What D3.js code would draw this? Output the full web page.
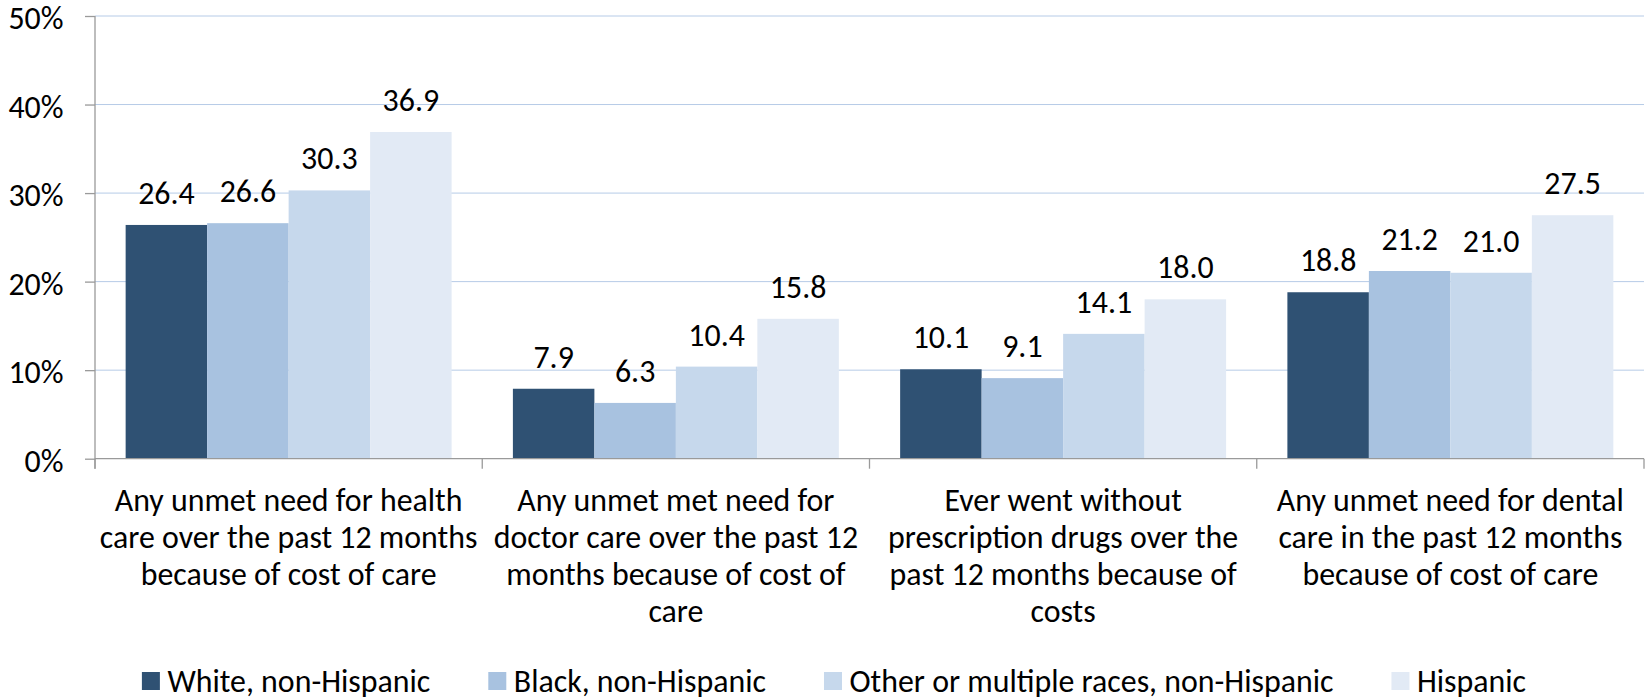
<!DOCTYPE html>
<html>
<head>
<meta charset="utf-8">
<script src="https://cdn.jsdelivr.net/npm/d3@7"></script>
<style>
  html, body { margin: 0; padding: 0; background: #fff; }
  svg { display: block; }
  text { font-family: Carlito, Lato, "Open Sans", sans-serif; fill: #000; }
</style>
</head>
<body>
<svg id="chart" width="1645" height="700"></svg>
<script>
// ---- data ----
const categories = ["health", "doctor", "drugs", "dental"];
const categoryLabels = [
  ["Any unmet need for health", "care over the past 12 months", "because of cost of care"],
  ["Any unmet met need for", "doctor care over the past 12", "months because of cost of", "care"],
  ["Ever went without", "prescription drugs over the", "past 12 months because of", "costs"],
  ["Any unmet need for dental", "care in the past 12 months", "because of cost of care"]
];
const seriesNames = ["White, non-Hispanic", "Black, non-Hispanic", "Other or multiple races, non-Hispanic", "Hispanic"];
const whiteValues    = [26.4, 7.9, 10.1, 18.8];
const blackValues    = [26.6, 6.3, 9.1, 21.2];
const otherValues    = [30.3, 10.4, 14.1, 21.0];
const hispanicValues = [36.9, 15.8, 18.0, 27.5];
const seriesColors = ["#2f5173", "#a8c2e0", "#c6d8ec", "#e2eaf5"];
const yTickValues = [0, 10, 20, 30, 40, 50];

const seriesValues = [whiteValues, blackValues, otherValues, hispanicValues];

// ---- layout ----
const svg = d3.select("#chart");
const plotLeft = 95, plotRight = 1644, plotTop = 16, plotBottom = 458.7;

// font size matched to reference text width
const probe = svg.append("text").attr("font-size", 30).text("Any unmet need for health");
const measured = probe.node().getComputedTextLength();
probe.remove();
const fs = 30 * 348 / measured;

const x = d3.scaleBand().domain(categories).range([plotLeft, plotRight]).paddingInner(0).paddingOuter(0);
const xInner = d3.scaleBand().domain(d3.range(seriesNames.length)).range([0, x.bandwidth()]).paddingInner(0).paddingOuter(0.376);
const y = d3.scaleLinear().domain([0, 50]).range([plotBottom, plotTop]);

// gridlines
svg.append("g").selectAll("line").data(yTickValues.filter(d => d > 0)).join("line")
  .attr("x1", plotLeft).attr("x2", plotRight)
  .attr("y1", d => y(d)).attr("y2", d => y(d))
  .attr("stroke", "#b6cbe7").attr("stroke-width", 1);

// bars
const groups = svg.append("g").selectAll("g").data(categories).join("g")
  .attr("transform", d => `translate(${x(d)},0)`);
groups.each(function(cat, ci) {
  const g = d3.select(this);
  const rows = seriesValues.map((vals, si) => ({ si, v: vals[ci] }));
  g.selectAll("rect").data(rows).join("rect")
    .attr("x", d => xInner(d.si))
    .attr("width", xInner.bandwidth())
    .attr("y", d => y(d.v))
    .attr("height", d => y(0) - y(d.v))
    .attr("fill", d => seriesColors[d.si]);
  g.selectAll("text.val").data(rows).join("text")
    .attr("class", "val")
    .attr("x", d => xInner(d.si) + xInner.bandwidth() / 2)
    .attr("y", d => y(d.v) - 21)
    .attr("text-anchor", "middle")
    .attr("font-size", fs)
    .text(d => d.v.toFixed(1));
});

// y axis
const yAxis = svg.append("g").attr("transform", `translate(${plotLeft},0)`)
  .call(d3.axisLeft(y).tickValues(yTickValues).tickFormat(d => d + "%").tickSize(10).tickSizeOuter(0));
yAxis.select(".domain").remove();
yAxis.selectAll(".tick line").attr("stroke", "#9a9a9a").attr("stroke-width", 1.3);
yAxis.selectAll(".tick text").attr("font-size", fs).attr("x", -31.5).attr("dy", null)
  .attr("y", 12.5).attr("fill", "#000");
yAxis.attr("font-family", null);
svg.append("line").attr("x1", plotLeft).attr("x2", plotLeft).attr("y1", plotTop).attr("y2", plotBottom + 10)
  .attr("stroke", "#9a9a9a").attr("stroke-width", 1.3);

// x axis
svg.append("line").attr("x1", plotLeft).attr("x2", plotRight).attr("y1", plotBottom).attr("y2", plotBottom)
  .attr("stroke", "#9a9a9a").attr("stroke-width", 1.3);
const boundaries = categories.map(c => x(c)).concat([x(categories[categories.length - 1]) + x.step()]);
svg.append("g").selectAll("line").data(boundaries).join("line")
  .attr("x1", d => d).attr("x2", d => d).attr("y1", plotBottom).attr("y2", plotBottom + 10)
  .attr("stroke", "#9a9a9a").attr("stroke-width", 1.3);

// category labels
const catG = svg.append("g").selectAll("text").data(categories).join("text")
  .attr("text-anchor", "middle").attr("font-size", fs)
  .attr("transform", d => `translate(${x(d) + x.bandwidth() / 2},0)`);
catG.each(function(c, i) {
  d3.select(this).selectAll("tspan").data(categoryLabels[i]).join("tspan")
    .attr("x", 0).attr("y", (d, j) => 510.5 + j * 37).text(d => d);
});

// legend
const legendGap = 58;
const legend = svg.append("g");
const items = legend.selectAll("g").data(seriesNames).join("g");
items.append("rect").attr("width", 18).attr("height", 18).attr("y", 672)
  .attr("fill", (d, i) => seriesColors[i]);
items.append("text").attr("x", 25.5).attr("y", 692).attr("font-size", fs).text(d => d);
let cx = 0;
const positions = [];
items.each(function() {
  positions.push(cx);
  const w = d3.select(this).select("text").node().getComputedTextLength();
  cx += 25.5 + w + legendGap;
});
const totalW = cx - legendGap;
const startX = 834 - totalW / 2;
items.attr("transform", (d, i) => `translate(${startX + positions[i]},0)`);
</script>
</body>
</html>
